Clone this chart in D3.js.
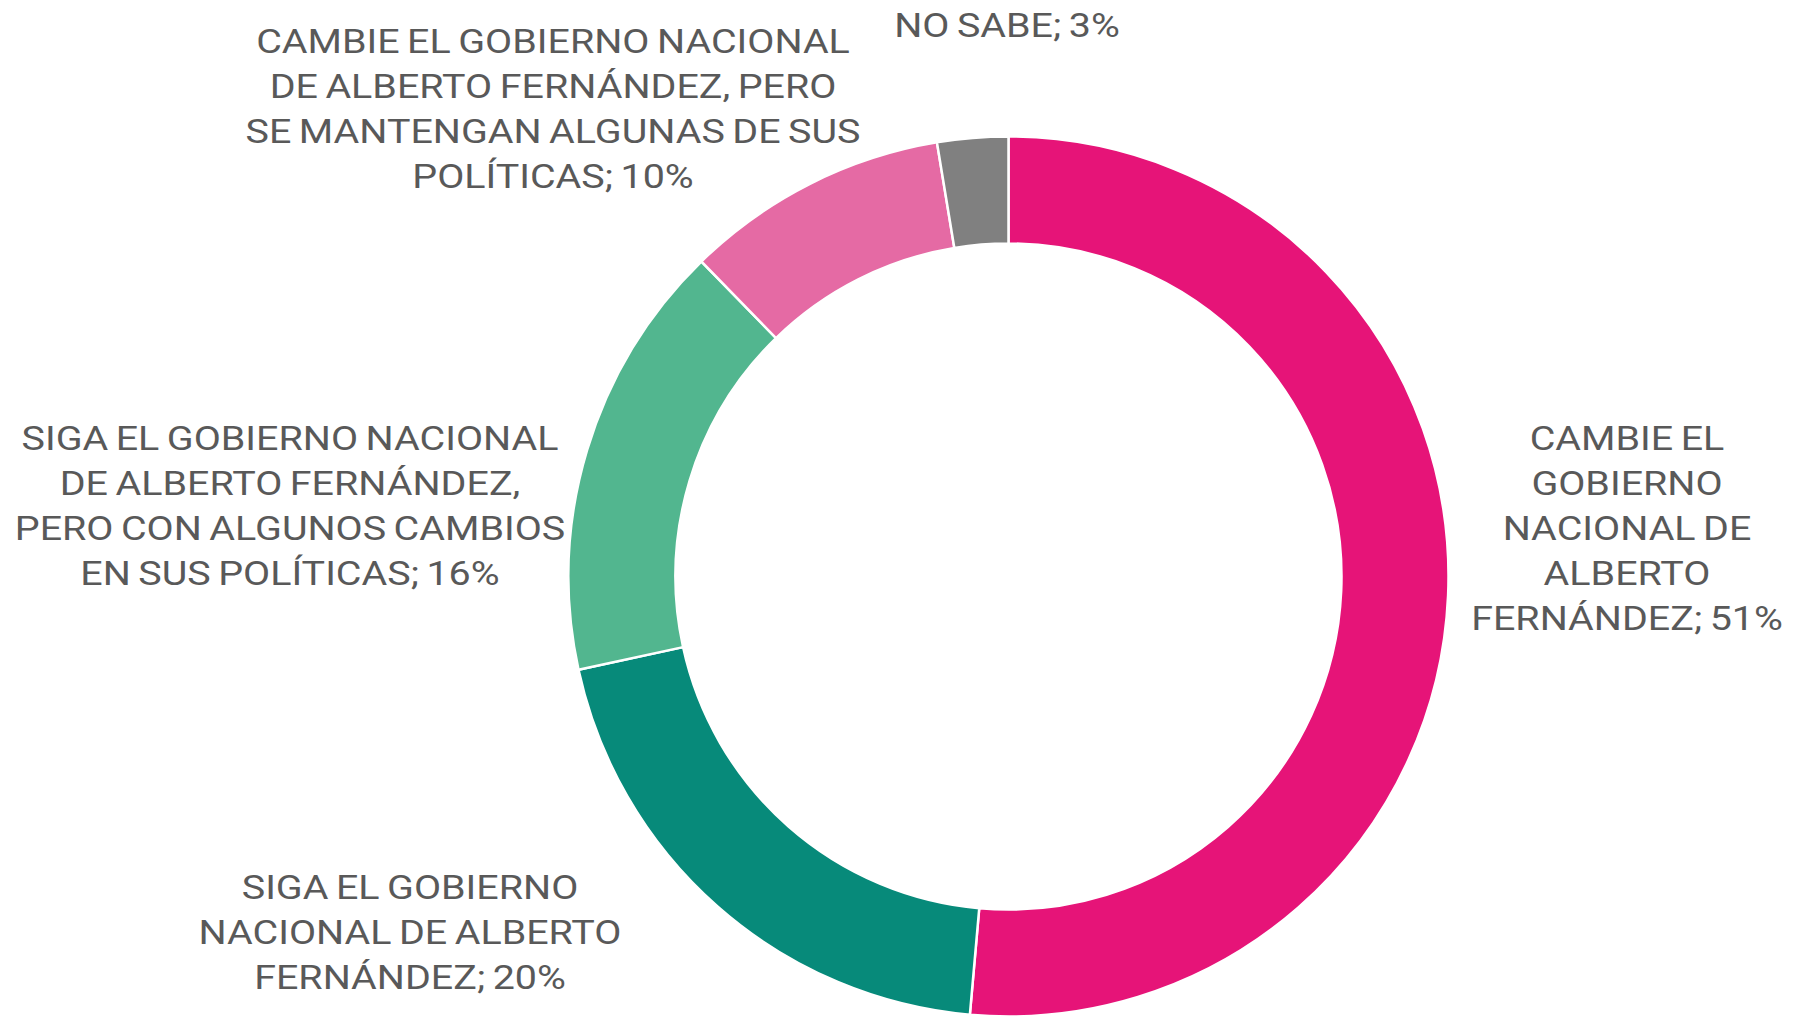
<!DOCTYPE html>
<html>
<head>
<meta charset="utf-8">
<script src="https://cdn.jsdelivr.net/npm/d3@7"></script>
<style>
  html, body { margin: 0; padding: 0; background: #fff; }
  svg text { font-family: Roboto, "Open Sans", sans-serif; font-weight: 400; fill: #595959; }
</style>
</head>
<body>
<svg width="1801" height="1016"></svg>
<script>
var svg = d3.select("svg"),
    width = +svg.attr("width"),
    height = +svg.attr("height");

// answers, clockwise from 12 o'clock
var categories = [
    "CAMBIE EL GOBIERNO NACIONAL DE ALBERTO FERNÁNDEZ",
    "SIGA EL GOBIERNO NACIONAL DE ALBERTO FERNÁNDEZ",
    "SIGA EL GOBIERNO NACIONAL DE ALBERTO FERNÁNDEZ, PERO CON ALGUNOS CAMBIOS EN SUS POLÍTICAS",
    "CAMBIE EL GOBIERNO NACIONAL DE ALBERTO FERNÁNDEZ, PERO SE MANTENGAN ALGUNAS DE SUS POLÍTICAS",
    "NO SABE"
];
var values = [51.4, 20.2, 16.1, 9.7, 2.6];
var shownPct = [51, 20, 16, 10, 3];

// how each label wraps in the original
var labelLines = [
    ["CAMBIE EL", "GOBIERNO", "NACIONAL DE", "ALBERTO", "FERNÁNDEZ; 51%"],
    ["SIGA EL GOBIERNO", "NACIONAL DE ALBERTO", "FERNÁNDEZ; 20%"],
    ["SIGA EL GOBIERNO NACIONAL", "DE ALBERTO FERNÁNDEZ,", "PERO CON ALGUNOS CAMBIOS", "EN SUS POLÍTICAS; 16%"],
    ["CAMBIE EL GOBIERNO NACIONAL", "DE ALBERTO FERNÁNDEZ, PERO", "SE MANTENGAN ALGUNAS DE SUS", "POLÍTICAS; 10%"],
    ["NO SABE; 3%"]
];

var colors = ["#e61478", "#078a7a", "#52b68f", "#e56aa4", "#808080"];

// layout
var cx = 1008.5, cy = 576.5,
    outerR = 440, innerR = 333,
    lineH = 45,
    stretch = 1.16;   // the original face is a wide DIN-like font
// centre x and first-line y of each label block
var labelAnchor = [[1627, 438], [410, 887], [290, 438], [553, 41], [1007, 25]];

var pie = d3.pie().sort(null).value(d => d);
var arc = d3.arc().innerRadius(innerR).outerRadius(outerR);

var g = svg.append("g").attr("transform", `translate(${cx},${cy})`);

g.selectAll("path")
    .data(pie(values))
    .enter().append("path")
    .attr("d", arc)
    .attr("fill", (d, i) => colors[i])
    .attr("stroke", "#fff")
    .attr("stroke-width", 2.5)
    .append("title")
    .text((d, i) => `${categories[i]}: ${shownPct[i]}%`);

var labels = svg.append("g").attr("class", "labels")
    .selectAll("text")
    .data(labelLines)
    .enter().append("text")
    .attr("text-anchor", "middle")
    .attr("transform", (d, i) => `translate(${labelAnchor[i][0]},0) scale(${stretch},1)`)
    .style("font-size", "34px")
    .style("word-spacing", "-2px");

labels.selectAll("tspan")
    .data((d, i) => d.map(t => ({t: t, i: i})))
    .enter().append("tspan")
    .attr("x", 0)
    .attr("y", (d, j) => labelAnchor[d.i][1] + j * lineH)
    .attr("dy", "0.35em")
    .text(d => d.t);
</script>
</body>
</html>
